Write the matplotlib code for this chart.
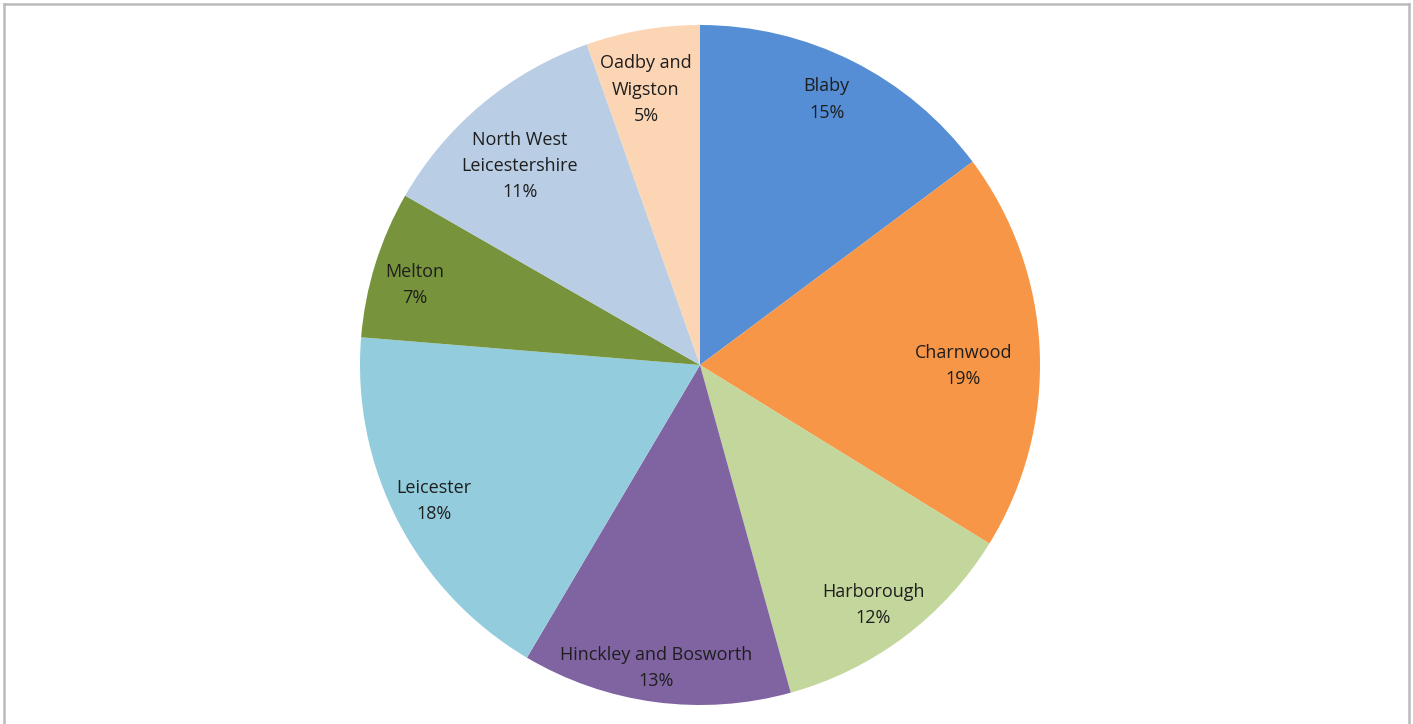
import matplotlib.pyplot as plt
from matplotlib.lines import Line2D
import numpy as np

districts = ['Blaby', 'Charnwood', 'Harborough', 'Hinckley and Bosworth',
             'Leicester', 'Melton', 'North West\nLeicestershire', 'Oadby and\nWigston']
shares = [14.8, 19.0, 11.9, 12.8, 17.8, 7.0, 11.3, 5.4]
colours = ['#558ED5', '#F79646', '#C3D69B', '#8064A2',
           '#93CDDD', '#77933C', '#B9CDE5', '#FCD5B5']
# label placement: distance (fraction of radius) and nudge off the mid-angle (deg, clockwise)
label_r = [0.865, 0.774, 0.87, 0.90, 0.88, 0.87, 0.79, 0.825]
label_turn = [-1.1, 2.8, 1.1, 0.6, 0.3, -1.6, -2.4, -1.4]

W, H = 1413, 724
fig = plt.figure(figsize=(W / 100, H / 100), dpi=100)
ax = fig.add_axes([0, 0, 1, 1])

cx, cy, R = 700, H - 365, 340
wedges, _ = ax.pie(shares, colors=colours, startangle=90, counterclock=False,
                   center=(cx, cy), radius=R, frame=True,
                   wedgeprops=dict(linewidth=0))
ax.set_xlim(0, W)
ax.set_ylim(0, H)
ax.set_aspect('equal')
ax.axis('off')

for w, name, v, d, t in zip(wedges, districts, shares, label_r, label_turn):
    mid = np.deg2rad((w.theta1 + w.theta2) / 2 - t)
    x = cx + d * R * np.cos(mid)
    y = cy + d * R * np.sin(mid)
    ax.text(x, y, f'{name}\n{v:.0f}%', ha='center', va='center',
            fontsize=13, family='Open Sans', color='#1e1e1e',
            linespacing=1.6)

# chart area border (bottom edge runs off the image)
grey = '#BBBBBB'
def px(x, y):
    return x / W, 1 - y / H
for (x0, y0), (x1, y1) in [((4, 4), (1409, 4)), ((4, 4), (4, 724)),
                           ((1409, 4), (1409, 724))]:
    a, b = px(x0, y0)
    c, d = px(x1, y1)
    fig.add_artist(Line2D([a, c], [b, d], color=grey, linewidth=1.8,
                          transform=fig.transFigure))

fig.savefig('out.png', dpi=100, facecolor='white')
